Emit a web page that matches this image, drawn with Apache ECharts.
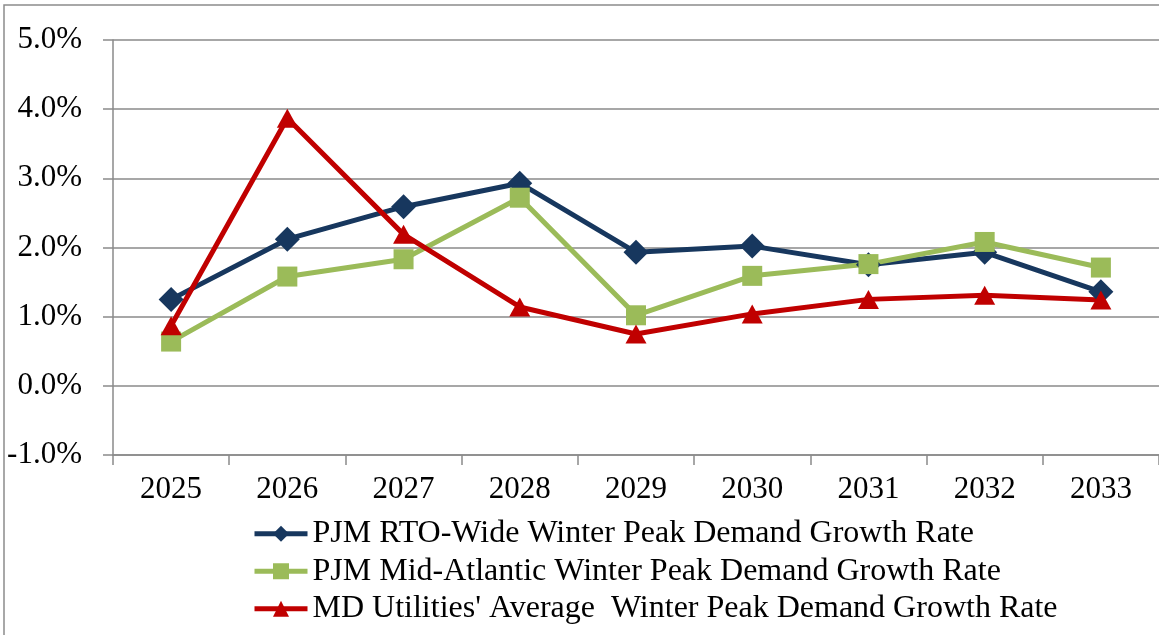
<!DOCTYPE html>
<html>
<head>
<meta charset="utf-8">
<script src="https://cdn.jsdelivr.net/npm/echarts@6/dist/echarts.min.js"></script>
<style>
  html, body { margin: 0; padding: 0; background: #fff; }
  #chart { width: 1159px; height: 635px; }
</style>
</head>
<body>
<div id="chart"></div>
<script>
const years = ['2025','2026','2027','2028','2029','2030','2031','2032','2033'];
const rtoWide = [1.25, 2.12, 2.59, 2.93, 1.93, 2.02, 1.75, 1.93, 1.36];
const midAtlantic = [0.64, 1.58, 1.83, 2.72, 1.02, 1.59, 1.76, 2.08, 1.71];
const mdUtilities = [0.87, 3.87, 2.19, 1.14, 0.75, 1.04, 1.25, 1.31, 1.24];
const seriesNames = [
    'PJM RTO-Wide Winter Peak Demand Growth Rate',
    'PJM Mid-Atlantic Winter Peak Demand Growth Rate',
    "MD Utilities' Average  Winter Peak Demand Growth Rate"
];

const font = "'Liberation Serif', 'Times New Roman', serif";
const gridGray = '#8a8a8a';

const chart = echarts.init(document.getElementById('chart'));
chart.setOption({
    backgroundColor: '#fff',
    animation: false,
    graphic: [{
        type: 'rect',
        shape: { x: 4, y: 5, width: 1200, height: 700 },
        style: { fill: 'none', stroke: '#8c8c8c', lineWidth: 1.5 },
        silent: true
    }],
    grid: {
        left: 113,
        top: 40,
        width: 1048,
        height: 415
    },
    legend: {
        orient: 'vertical',
        left: 247,
        top: 510,
        itemWidth: 53,
        itemHeight: 20,
        itemGap: 0,
        lineStyle: { width: 5 },
        textStyle: {
            fontFamily: font,
            fontSize: 32,
            color: '#000',
            lineHeight: 37.5
        },
        data: seriesNames
    },
    xAxis: {
        type: 'category',
        data: years,
        boundaryGap: true,
        axisLine: { show: true, onZero: false, lineStyle: { color: gridGray, width: 1.5 } },
        axisTick: { show: true, length: 10, lineStyle: { color: gridGray, width: 1.5 } },
        axisLabel: {
            fontFamily: font,
            fontSize: 31,
            color: '#000',
            margin: 19,
            interval: 0
        }
    },
    yAxis: {
        type: 'value',
        min: -1,
        max: 5,
        interval: 1,
        axisLine: { show: true, lineStyle: { color: gridGray, width: 1.5 } },
        axisTick: { show: true, inside: false, length: 10, lineStyle: { color: gridGray, width: 1.5 } },
        splitLine: { show: true, lineStyle: { color: gridGray, width: 1.5 } },
        axisLabel: {
            fontFamily: font,
            fontSize: 31,
            color: '#000',
            margin: 31,
            formatter: v => v.toFixed(1) + '%'
        }
    },
    series: [
        {
            name: seriesNames[0],
            type: 'line',
            data: rtoWide,
            symbol: 'diamond',
            symbolSize: 25,
            lineStyle: { color: '#17375E', width: 5 },
            itemStyle: { color: '#17375E' }
        },
        {
            name: seriesNames[1],
            type: 'line',
            data: midAtlantic,
            symbol: 'rect',
            symbolSize: 20,
            lineStyle: { color: '#9BBB59', width: 5 },
            itemStyle: { color: '#9BBB59' }
        },
        {
            name: seriesNames[2],
            type: 'line',
            data: mdUtilities,
            symbol: 'triangle',
            symbolSize: [21, 19],
            lineStyle: { color: '#C00000', width: 5 },
            itemStyle: { color: '#C00000' }
        }
    ]
});
</script>
</body>
</html>
